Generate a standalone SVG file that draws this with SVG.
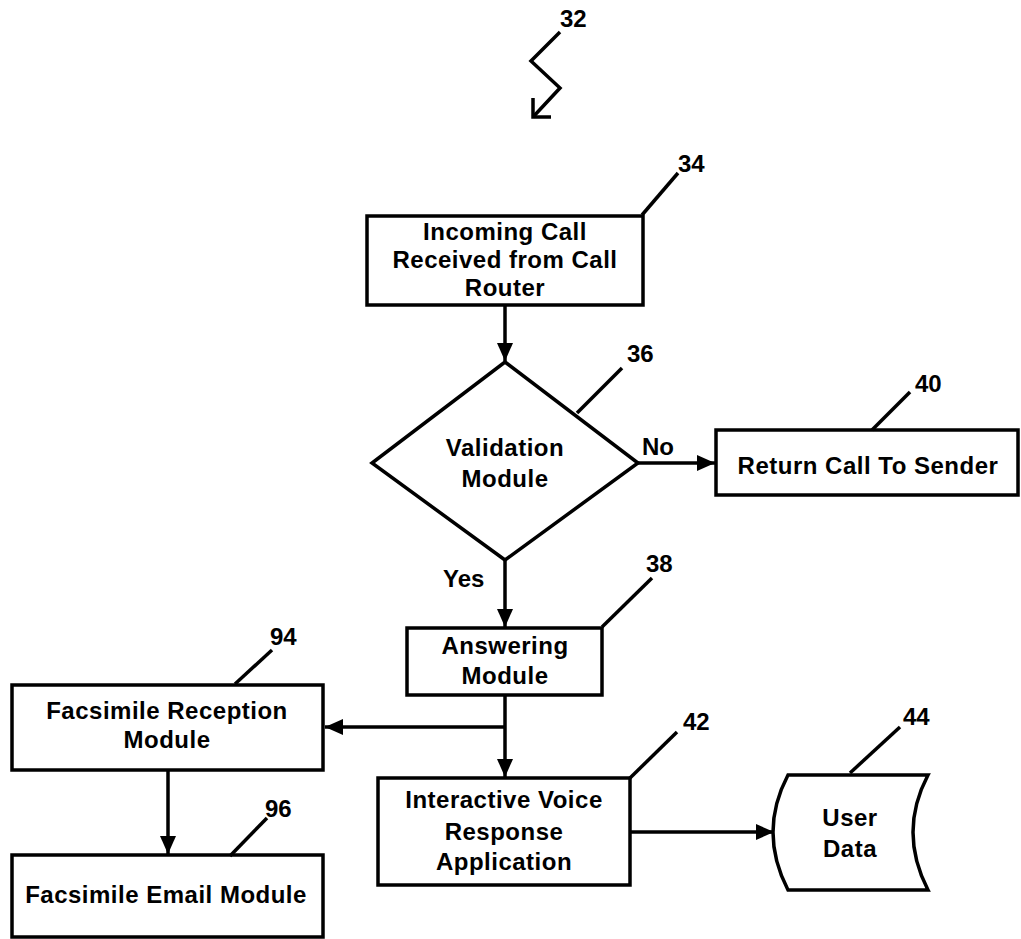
<svg xmlns="http://www.w3.org/2000/svg" width="1021" height="939" viewBox="0 0 1021 939">
<style>
.box{fill:#fff;stroke:#000;stroke-width:3.5}
.t{font-family:"Liberation Sans",Arial,sans-serif;font-weight:bold;font-size:24px;letter-spacing:0.5px;fill:#000;text-anchor:middle}
.lbl{font-family:"Liberation Sans",Arial,sans-serif;font-weight:bold;font-size:24px;fill:#000}
.ld{fill:none;stroke:#000;stroke-width:3.5}
.c{fill:none;stroke:#000;stroke-width:3.5}
.ca{fill:none;stroke:#000;stroke-width:3.5;marker-end:url(#ah)}
</style>
<defs>
<marker id="ah" markerUnits="userSpaceOnUse" markerWidth="20" markerHeight="18" refX="18" refY="8" orient="auto">
<path d="M0,0 L18,8 L0,16 Z" fill="#000"/>
</marker>
</defs>
<rect width="1021" height="939" fill="#fff"/>

<g id="ref32">
<polyline class="ld" points="560,32 531,61 560,88 533,117"/>
<polyline class="ld" points="533,98 533,117 551,117"/>
<text class="lbl" x="560" y="27">32</text>
</g>

<g id="connectors">
<line class="ca" x1="505" y1="305" x2="505" y2="361"/>
<line class="ca" x1="638" y1="463" x2="715" y2="463"/>
<line class="ca" x1="505" y1="560" x2="505" y2="627"/>
<line class="ca" x1="505" y1="695" x2="505" y2="777"/>
<line class="ca" x1="505" y1="727" x2="325" y2="727"/>
<line class="ca" x1="168" y1="770" x2="168" y2="854"/>
<line class="ca" x1="630" y1="832" x2="774" y2="832"/>
<text class="lbl" x="642" y="455">No</text>
<text class="lbl" x="443" y="587">Yes</text>
</g>

<g id="node34">
<rect class="box" x="367" y="216" width="276" height="89"/>
<text class="t" x="505" y="240">Incoming Call</text>
<text class="t" x="505" y="268">Received from Call</text>
<text class="t" x="505" y="296">Router</text>
<line class="ld" x1="642" y1="215" x2="678" y2="173"/>
<text class="lbl" x="678" y="172">34</text>
</g>

<g id="node36">
<polygon class="box" points="505,362 638,463 505,560 372,463"/>
<text class="t" x="505" y="456">Validation</text>
<text class="t" x="505" y="487">Module</text>
<line class="ld" x1="577" y1="413" x2="622" y2="368"/>
<text class="lbl" x="627" y="362">36</text>
</g>

<g id="node40">
<rect class="box" x="716" y="430" width="302" height="65"/>
<text class="t" x="868" y="474">Return Call To Sender</text>
<line class="ld" x1="872" y1="430" x2="910" y2="392"/>
<text class="lbl" x="915" y="392">40</text>
</g>

<g id="node38">
<rect class="box" x="407" y="628" width="195" height="67"/>
<text class="t" x="505" y="654">Answering</text>
<text class="t" x="505" y="684">Module</text>
<line class="ld" x1="602" y1="627" x2="652" y2="578"/>
<text class="lbl" x="646" y="572">38</text>
</g>

<g id="node94">
<rect class="box" x="12" y="685" width="311" height="85"/>
<text class="t" x="167" y="719">Facsimile Reception</text>
<text class="t" x="167" y="748">Module</text>
<line class="ld" x1="235" y1="684" x2="272" y2="650"/>
<text class="lbl" x="270" y="645">94</text>
</g>

<g id="node96">
<rect class="box" x="12" y="855" width="311" height="82"/>
<text class="t" x="166" y="903">Facsimile Email Module</text>
<line class="ld" x1="230" y1="856" x2="267" y2="818"/>
<text class="lbl" x="265" y="817">96</text>
</g>

<g id="node42">
<rect class="box" x="378" y="778" width="252" height="107"/>
<text class="t" x="504" y="808">Interactive Voice</text>
<text class="t" x="504" y="840">Response</text>
<text class="t" x="504" y="870">Application</text>
<line class="ld" x1="630" y1="778" x2="677" y2="732"/>
<text class="lbl" x="683" y="730">42</text>
</g>

<g id="node44">
<path class="box" d="M788,775 L928,775 Q898,832 928,890 L788,890 Q758,832 788,775 Z"/>
<text class="t" x="850" y="826">User</text>
<text class="t" x="850" y="857">Data</text>
<line class="ld" x1="850" y1="773" x2="900" y2="727"/>
<text class="lbl" x="903" y="725">44</text>
</g>
</svg>
